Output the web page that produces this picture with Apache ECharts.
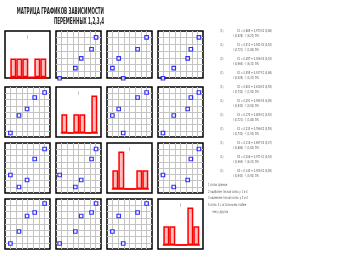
<!DOCTYPE html>
<html><head><meta charset="utf-8">
<script src="https://cdn.jsdelivr.net/npm/echarts@6/dist/echarts.min.js"></script>
<style>html,body{margin:0;padding:0;background:#fff}#c{width:342px;height:257px}</style>
</head><body><div id="c"></div>
<script>
// ---- data ----
const X1 = [12, 31, 49, 66, 88];
const X2 = [8, 43, 56, 79, 89];
const X3 = [36, 12, 26, 68, 88];
const X4 = [11, 35, 66, 73, 91];
const variables = [X1, X2, X3, X4];
const histBins = ['1', '2', '3', '4', '5', '6'];
const H1 = [1, 1, 1, 0, 1, 1];
const H2 = [1, 0, 1, 1, 0, 2];
const H3 = [1, 2, 0, 0, 1, 1];
const H4 = [1, 1, 0, 0, 2, 1];
const hists = [H1, H2, H3, H4];
const histMarks = ['I', 'I', 'I', 'I'];
const titleLines = ['МАТРИЦА ГРАФИКОВ ЗАВИСИМОСТИ', 'ПЕРЕМЕННЫХ 1,2,3,4'];
const eqLabels = ['(1)', '(1)', '(2)', '(1)', '(1)', '(1)', '(1)', '(1)', '(1)', '(1)', '(1)'];
const eqLine1 = [
  'Х1 = 0,865 + 0,973·Х2 (0,86)',
  'Х1 = 0,912 + 0,541·Х3 (0,52)',
  'Х1 = 0,387 + 0,926·Х4 (0,93)',
  'Х2 = 0,455 + 0,917·Х1 (0,86)',
  'Х2 = 0,802 + 0,618·Х3 (0,55)',
  'Х2 = 0,291 + 0,954·Х4 (0,89)',
  'Х3 = 0,174 + 0,805·Х1 (0,52)',
  'Х3 = 0,233 + 0,766·Х2 (0,55)',
  'Х3 = 0,118 + 0,697·Х4 (0,47)',
  'Х4 = 0,206 + 0,971·Х1 (0,93)',
  'Х4 = 0,140 + 0,925·Х2 (0,89)'
];
const eqLine2 = [
  'r (0,928) · t (6,22) D%',
  'r (0,721) · t (1,80) D%',
  'r (0,964) · t (6,31) D%',
  'r (0,928) · t (4,31) D%',
  'r (0,742) · t (1,92) D%',
  'r (0,943) · t (4,92) D%',
  'r (0,721) · t (1,80) D%',
  'r (0,742) · t (1,92) D%',
  'r (0,686) · t (1,63) D%',
  'r (0,964) · t (6,31) D%',
  'r (0,943) · t (4,92) D%'
];
const notes = [
  '1 связи прямые',
  '2 наиболее тесная связь у 1 и 4',
  '3 наименее тесная связь у 3 и 4',
  '4 связь 3 с остальными слабее',
  'чем у других'
];

// ---- layout ----
const colLeft = [5, 56, 107, 158];
const rowTop = [31, 87, 143, 199];
const rowH = [47, 50, 50, 50];
const W = 45;
const grids = [], xAxes = [], yAxes = [], series = [], graphic = [];
function addGrid(g, xa, ya) {
  grids.push(g);
  const idx = grids.length - 1;
  xa.gridIndex = idx; ya.gridIndex = idx;
  xAxes.push(xa); yAxes.push(ya);
  return idx;
}
const gridAxis = (min) => ({
  type: 'value', min: min, max: 100, interval: 12.5,
  axisLine: { show: false }, axisTick: { show: false }, axisLabel: { show: false },
  splitLine: { show: true, showMinLine: false, showMaxLine: false, lineStyle: { color: '#c4c4c4', width: 1 } }
});
const hidden = (t) => ({ type: t || 'value', show: false, splitLine: { show: false } });

for (let i = 0; i < 4; i++) {
  for (let j = 0; j < 4; j++) {
    if (i !== j) {
      const idx = addGrid(
        { left: colLeft[j], top: rowTop[i], width: W, height: rowH[i], show: true,
          backgroundColor: '#fff', borderColor: '#000', borderWidth: 1.5 },
        gridAxis(0), gridAxis(i === 0 ? 12.5 : 0));
      series.push({
        type: 'scatter', xAxisIndex: idx, yAxisIndex: idx, symbol: 'rect', symbolSize: 3.5,
        clip: false, z: 3,
        itemStyle: { color: '#fff', borderColor: '#0000ff', borderWidth: 1.2 },
        data: variables[j].map((v, k) => [v, variables[i][k]])
      });
    } else {
      addGrid({ left: colLeft[j], top: rowTop[i], width: W, height: rowH[i], show: true,
        backgroundColor: '#fff', borderColor: '#000', borderWidth: 1.5 }, hidden(), hidden());
      const bOff = i === 0 ? 0.7 : 4;
      const ih = 37.4;
      const idx = addGrid(
        { left: colLeft[j] + 5.3, width: 36, top: rowTop[i] + rowH[i] - bOff - ih, height: ih },
        { type: 'category', data: histBins, boundaryGap: true,
          axisLine: { show: true, lineStyle: { color: '#ff0000', width: 1.5 } },
          axisTick: { show: false }, axisLabel: { show: false }, splitLine: { show: false } },
        { type: 'value', min: 0, max: 2, show: false, splitLine: { show: false } });
      series.push({
        type: 'bar', xAxisIndex: idx, yAxisIndex: idx, barCategoryGap: 0, z: 3,
        itemStyle: { color: '#ffc0c0', borderColor: '#ff0000', borderWidth: 1.5 },
        data: hists[i]
      });
      graphic.push({ type: 'text', x: colLeft[j] + W / 2, y: rowTop[i] + 7,
        style: { text: histMarks[i], font: '5px "DejaVu Sans"', fill: '#999', align: 'center', verticalAlign: 'middle' } });
    }
  }
}

// title
const titleFont = 'bold 9px "Liberation Sans Narrow", "DejaVu Sans Condensed", sans-serif';
graphic.push({ type: 'text', x: 104, y: 11.7, scaleX: 0.5, originX: 0, originY: 0,
  style: { text: titleLines[0], font: titleFont, fill: '#222', align: 'right', verticalAlign: 'middle' } });
graphic.push({ type: 'text', x: 104, y: 22, scaleX: 0.5, originX: 0, originY: 0,
  style: { text: titleLines[1], font: titleFont, fill: '#222', align: 'right', verticalAlign: 'middle' } });

// equations
const smallFont = '4px "Liberation Sans Narrow", "DejaVu Sans Condensed", sans-serif';
const sx = 0.65;
for (let k = 0; k < eqLine1.length; k++) {
  const y = 31 + 14 * k;
  graphic.push({ type: 'text', x: 220, y: y, scaleX: sx, style: { text: eqLabels[k], font: smallFont, fill: '#555', verticalAlign: 'middle' } });
  graphic.push({ type: 'text', x: 237, y: y, scaleX: sx, style: { text: eqLine1[k], font: smallFont, fill: '#555', verticalAlign: 'middle' } });
  graphic.push({ type: 'text', x: 233, y: y + 5.3, scaleX: sx, style: { text: eqLine2[k], font: smallFont, fill: '#555', verticalAlign: 'middle' } });
}
const noteY = [185, 191.7, 198.3, 205, 212.3];
notes.forEach((t, k) => {
  graphic.push({ type: 'text', x: k === 4 ? 212 : 208, y: noteY[k], scaleX: sx, style: { text: t, font: smallFont, fill: '#555', verticalAlign: 'middle' } });
});

const chart = echarts.init(document.getElementById('c'), null, { renderer: 'canvas' });
chart.setOption({
  animation: false,
  backgroundColor: '#fff',
  grid: grids, xAxis: xAxes, yAxis: yAxes, series: series, graphic: graphic
});
</script></body></html>
